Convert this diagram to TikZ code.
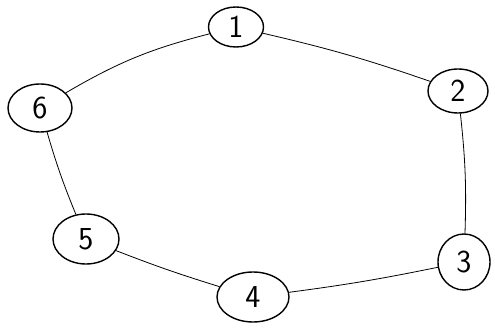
\documentclass[tikz,border=0pt]{standalone}
\usetikzlibrary{shapes.geometric}
\begin{document}
\begin{tikzpicture}[x=1pt,y=-1pt,
  vert/.style={ellipse,draw,line width=1.4pt,inner sep=0pt,font=\sffamily\fontsize{32}{32}\selectfont},
  edge/.style={line width=0.8pt}]
\useasboundingbox (0,0) rectangle (495,328);
\node[vert,minimum width=55pt,minimum height=40pt] (n1) at (236,27) {1};
\node[vert,minimum width=60pt,minimum height=44pt] (n2) at (458,91) {2};
\node[vert,minimum width=52pt,minimum height=56pt] (n3) at (464,262) {3};
\node[vert,minimum width=72pt,minimum height=50pt] (n4) at (253,297) {4};
\node[vert,minimum width=66pt,minimum height=50pt] (n5) at (86,239) {5};
\node[vert,minimum width=64pt,minimum height=48pt] (n6) at (40,108) {6};
\draw[edge] (n1) to[bend left=3] (n2);
\draw[edge] (n2) to[bend left=4] (n3);
\draw[edge] (n3) to[bend left=2] (n4);
\draw[edge] (n4) to[bend left=2] (n5);
\draw[edge] (n5) to[bend left=3] (n6);
\draw[edge] (n6) to[bend left=8] (n1);
\end{tikzpicture}
\end{document}
